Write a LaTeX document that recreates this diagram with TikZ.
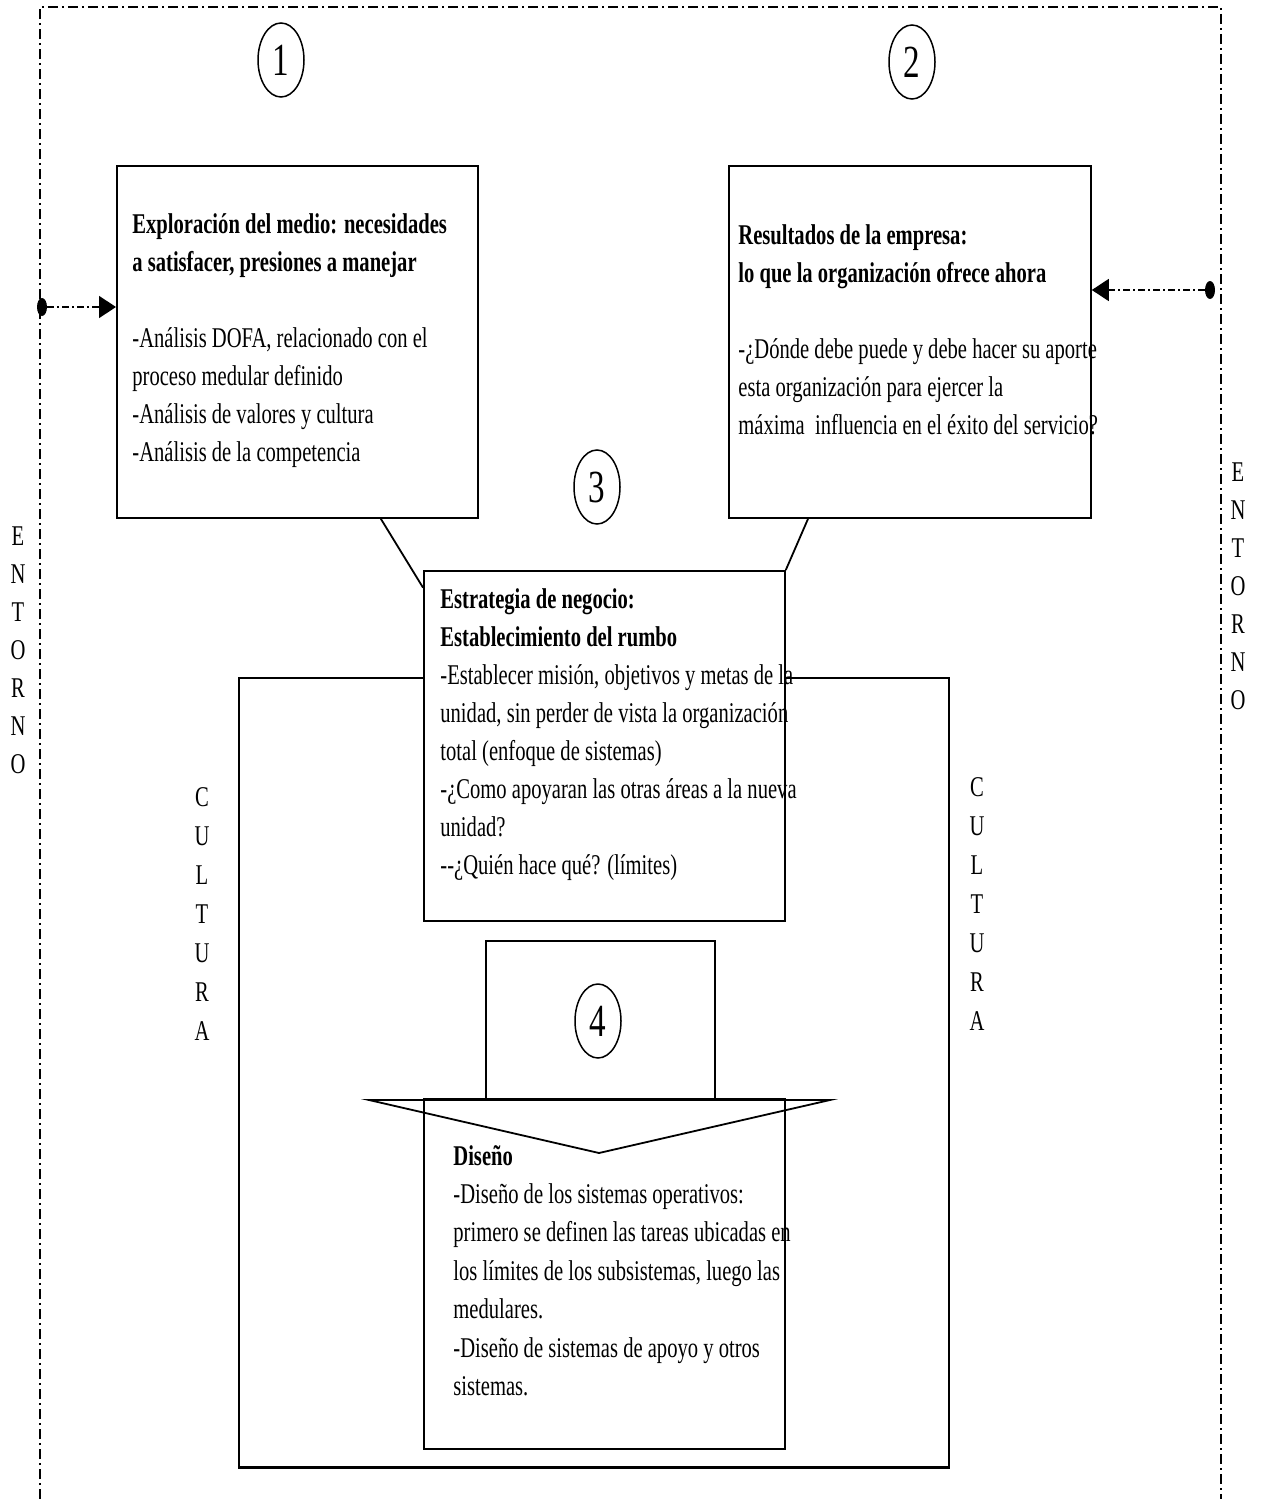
\documentclass[tikz,border=0pt]{standalone}
\usepackage{fontspec}
\setmainfont{Liberation Serif}[FakeStretch=0.72]
\usetikzlibrary{shapes.geometric,arrows.meta,calc}
\begin{document}
\begin{tikzpicture}[x=0.5pt,y=-0.5pt,
  box/.style={draw,line width=0.9pt,fill=white,rectangle,inner sep=0pt,anchor=north west},
  txt/.style={inner sep=0pt,anchor=base west,font=\fontsize{14.3pt}{19pt}\selectfont},
  vlet/.style={inner sep=0pt,anchor=base,font=\fontsize{14.3pt}{19pt}\selectfont},
  numc/.style={draw,ellipse,line width=0.75pt,minimum width=23pt,minimum height=37pt,inner sep=0pt,font=\fontsize{23pt}{23pt}\selectfont},
  dotn/.style={fill,ellipse,minimum width=5pt,minimum height=9pt,inner sep=0pt},
  envline/.style={line width=1pt,dash pattern=on 5pt off 2pt on 1pt off 2pt},
  arrline/.style={line width=0.8pt,dash pattern=on 3.5pt off 1.5pt on 1pt off 1.5pt,-{Triangle[length=8.5pt,width=11pt]}},
  link/.style={line width=0.9pt}
]
\useasboundingbox (0,0) rectangle (1260,1499);
% environment border
\draw[envline] (40,1499) -- (40,7) -- (1221,7) -- (1221,1499);
% culture box
\node[box,minimum width=355pt,minimum height=394.5pt] (cult) at (238,677) {};
\draw[line width=1.4pt] (cult.south west) -- (cult.south east);
% main boxes
\node[box,minimum width=180.5pt,minimum height=176pt] (box1) at (116,165) {};
\node[box,minimum width=181pt,minimum height=176pt] (box2) at (728,165) {};
\node[box,minimum width=180.5pt,minimum height=175pt] (box3) at (423,570) {};
\node[box,minimum width=180.5pt,minimum height=175pt] (dis) at (423,1098) {};
\node[box,fill=none,minimum width=114.5pt,minimum height=79pt] (stem) at (485,940) {};
% arrow head of block arrow
\coordinate (hl) at (369,1100);
\coordinate (hr) at (830,1100);
\coordinate (ht) at (599,1153);
\draw[link] (hl) -- (hr) -- (ht) -- cycle;
% connectors
\draw[link] ($(box1.north east)!0.44!(box1.south east)$) -- ($(box1.north east)!0.44!(box1.south east)$ -| box2.west);
\draw[link] ($(box1.south west)!0.73!(box1.south east)$) -- ($(box3.north west)!0.05!(box3.south west)$);
\draw[link] ($(box2.south west)!0.22!(box2.south east)$) -- (box3.north east);
% side arrows
\node[dotn] (dotL) at (42,307) {};
\node[dotn] (dotR) at (1210,290) {};
\draw[arrline] (dotL) -- (dotL -| box1.west);
\draw[arrline] (dotR) -- (dotR -| box2.east);
% numbers
\node[numc] (c1) at (281,60) {1};
\node[numc] (c2) at (912,62) {2};
\node[numc] (c3) at (597,487) {3};
\node[numc] (c4) at (598,1021) {4};
% texts
\node[txt] (t1) at (132,233) {\parbox[t]{300pt}{\textbf{Exploración del medio: necesidades}\\
\textbf{a satisfacer, presiones a manejar}\\[19pt]
-Análisis DOFA, relacionado con el\\
proceso medular definido\\
-Análisis de valores y cultura\\
-Análisis de la competencia}};
\node[txt] (t2) at (738,244) {\parbox[t]{300pt}{\textbf{Resultados de la empresa:}\\
\textbf{lo que la organización ofrece ahora}\\[19pt]
-¿Dónde debe puede y debe hacer su aporte\\
esta organización para ejercer la\\
máxima\ \ influencia en el éxito del servicio?}};
\node[txt] (t3) at (440,608) {\parbox[t]{300pt}{\textbf{Estrategia de negocio:}\\
\textbf{Establecimiento del rumbo}\\
-Establecer misión, objetivos y metas de la\\
unidad, sin perder de vista la organización\\
total (enfoque de sistemas)\\
-¿Como apoyaran las otras áreas a la nueva\\
unidad?\\
-{}-¿Quién hace qué? (límites)}};
\node[txt,font=\fontsize{14.3pt}{19.2pt}\selectfont] (t4) at (453,1165) {\parbox[t]{300pt}{\textbf{Diseño}\\
-Diseño de los sistemas operativos:\\
primero se definen las tareas ubicadas en\\
los límites de los subsistemas, luego las\\
medulares.\\
-Diseño de sistemas de apoyo y otros\\
sistemas.}};
% vertical labels
\node[vlet] (entL) at (18,545) {\parbox[t]{14pt}{\centering E\\N\\T\\O\\R\\N\\O}};
\node[vlet] (entR) at (1238,481) {\parbox[t]{14pt}{\centering E\\N\\T\\O\\R\\N\\O}};
\node[vlet,font=\fontsize{14.3pt}{19.5pt}\selectfont] (culL) at (202,806) {\parbox[t]{14pt}{\centering C\\U\\L\\T\\U\\R\\A}};
\node[vlet,font=\fontsize{14.3pt}{19.5pt}\selectfont] (culR) at (977,796) {\parbox[t]{14pt}{\centering C\\U\\L\\T\\U\\R\\A}};
\end{tikzpicture}
\end{document}
